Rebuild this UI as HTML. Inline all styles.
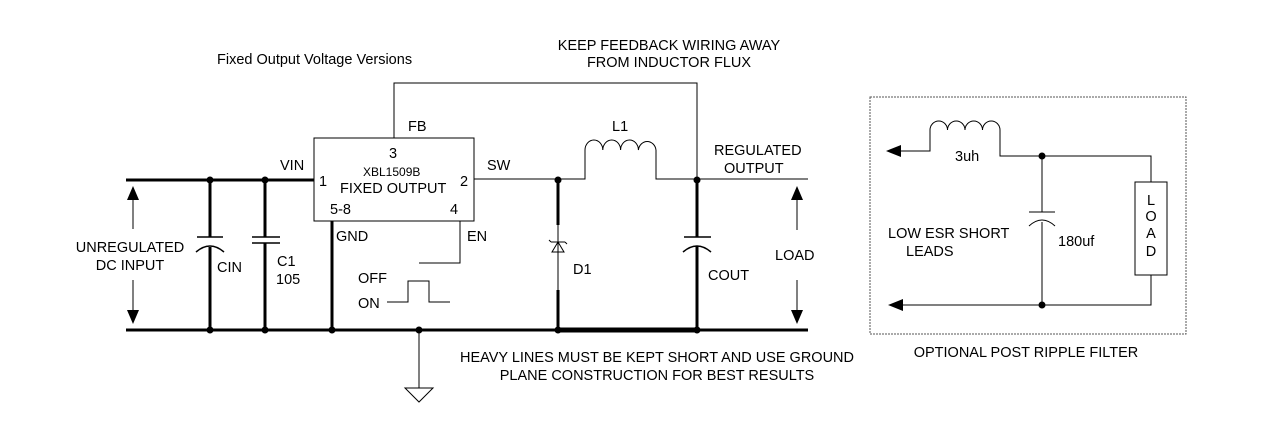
<!DOCTYPE html>
<html><head><style>
body{margin:0;background:#fff;}
svg text{font-family:"Liberation Sans",Arial,sans-serif;font-size:14.5px;fill:#000;}
</style></head><body>
<svg width="1267" height="443" viewBox="0 0 1267 443" xmlns="http://www.w3.org/2000/svg">
<g stroke="#000" fill="none">
<path d="M126 180 H314" stroke-width="3"/>
<path d="M126 330 H808" stroke-width="3"/>
<path d="M558 330 H697" stroke-width="5"/>
<path d="M210 180 V237 M210 247 V330 M265 180 V237 M265 243 V330" stroke-width="3"/>
<path d="M332 221 V330" stroke-width="3"/>
<path d="M697 180 V237 M697 246 V330" stroke-width="3"/>
<path d="M558 180 V225 M558 290 V330" stroke-width="3"/>
<path d="M197 237 H223 M252 237 H280 M252 243 H280 M684 237 H711" stroke-width="1.5"/>
<path d="M196 252 Q210 240 224 252 M683 252 Q697 240 711 252" stroke-width="1.5"/>
<rect x="314" y="138" width="160" height="83" stroke-width="1"/>
<path d="M474 179 H585 V150 M656 150 V179 H808" stroke-width="1"/>
<path d="M585 150 a8.9 10 0 0 1 17.8 0 a8.9 10 0 0 1 17.8 0 a8.9 10 0 0 1 17.8 0 a8.9 10 0 0 1 17.6 0" stroke-width="1"/>
<path d="M394 138 V83 H697 V180" stroke-width="1"/>
<path d="M558 225 V290" stroke-width="1"/>
<path d="M460 221 V263 H419" stroke-width="1"/>
<path d="M387 302 H408 V281 H429 V302 H450" stroke-width="1"/>
<path d="M419 330 V388 M405 388 H433 L419 402 Z" stroke-width="1"/>
<path d="M133 200 V229 M133 280 V310 M797 200 V230 M797 280 V310" stroke-width="1"/>
<path d="M552 252 H564 L558 242 Z M551 242 H565 M551 242 l-2 -2 M565 242 l2 2" stroke-width="1"/>
<rect x="870" y="97" width="316" height="237" stroke-dasharray="2,1" stroke="#555" stroke-width="1"/>
<path d="M893 151 H930 V130 M1000 130 V156 H1151 V182 M1151 275 V305 H893" stroke-width="1"/>
<path d="M930 130 a8.75 9 0 0 1 17.5 0 a8.75 9 0 0 1 17.5 0 a8.75 9 0 0 1 17.5 0 a8.75 9 0 0 1 17.5 0" stroke-width="1"/>
<rect x="1135" y="182" width="32" height="93" stroke-width="1"/>
<path d="M1042 156 V212 M1042 222 V305 M1029 212 H1055" stroke-width="1"/>
<path d="M1029 226 Q1042 214 1055 226" stroke-width="1"/>
</g>
<g fill="#000">
<path d="M127 200 H139 L133 186 Z M127 310 H139 L133 324 Z M791 200 H803 L797 186 Z M791 310 H803 L797 324 Z"/>
<path d="M886 151 L901 145 V157 Z M888 305 L903 299 V311 Z"/>
<circle cx="210" cy="180" r="3.5"/><circle cx="265" cy="180" r="3.5"/>
<circle cx="210" cy="330" r="3.5"/><circle cx="265" cy="330" r="3.5"/>
<circle cx="332" cy="330" r="3.5"/><circle cx="419" cy="330" r="3.5"/>
<circle cx="558" cy="180" r="3.5"/><circle cx="697" cy="180" r="3.5"/>
<circle cx="558" cy="330" r="3.5"/><circle cx="697" cy="330" r="3.5"/>
<circle cx="1042" cy="156" r="3.5"/><circle cx="1042" cy="305" r="3.5"/>
</g>
<text x="217" y="64">Fixed Output Voltage Versions</text>
<text x="669" y="50" text-anchor="middle">KEEP FEEDBACK WIRING AWAY</text>
<text x="669" y="67" text-anchor="middle">FROM INDUCTOR FLUX</text>
<text x="408" y="131">FB</text>
<text x="389" y="158">3</text>
<text x="363" y="176" style="font-size:12px">XBL1509B</text>
<text x="340" y="193">FIXED OUTPUT</text>
<text x="280" y="170">VIN</text>
<text x="319" y="186">1</text>
<text x="460" y="186">2</text>
<text x="487" y="170">SW</text>
<text x="330" y="214">5-8</text>
<text x="450" y="214">4</text>
<text x="336" y="241">GND</text>
<text x="467" y="241">EN</text>
<text x="358" y="283">OFF</text>
<text x="358" y="308">ON</text>
<text x="130" y="252" text-anchor="middle">UNREGULATED</text>
<text x="130" y="270" text-anchor="middle">DC INPUT</text>
<text x="217" y="272">CIN</text>
<text x="277" y="266">C1</text>
<text x="276" y="284">105</text>
<text x="612" y="131">L1</text>
<text x="714" y="155">REGULATED</text>
<text x="724" y="173">OUTPUT</text>
<text x="573" y="274">D1</text>
<text x="708" y="280">COUT</text>
<text x="775" y="260">LOAD</text>
<text x="657" y="362" text-anchor="middle">HEAVY LINES MUST BE KEPT SHORT AND USE GROUND</text>
<text x="657" y="380" text-anchor="middle">PLANE CONSTRUCTION FOR BEST RESULTS</text>
<text x="955" y="161">3uh</text>
<text x="888" y="238">LOW ESR SHORT</text>
<text x="906" y="256">LEADS</text>
<text x="1058" y="246">180uf</text>
<text x="1151" y="205" text-anchor="middle">L</text>
<text x="1151" y="221" text-anchor="middle">O</text>
<text x="1151" y="238" text-anchor="middle">A</text>
<text x="1151" y="256" text-anchor="middle">D</text>
<text x="1026" y="357" text-anchor="middle">OPTIONAL POST RIPPLE FILTER</text>
</svg>
</body></html>
